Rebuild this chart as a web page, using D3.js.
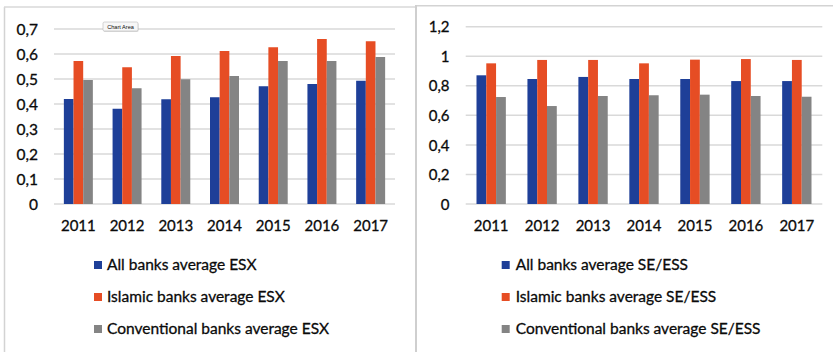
<!DOCTYPE html>
<html>
<head>
<meta charset="utf-8">
<script src="https://cdn.jsdelivr.net/npm/d3@7/dist/d3.min.js"></script>
<style>
  html, body { margin: 0; padding: 0; background: #ffffff; }
  svg { display: block; }
  text { font-family: Lato, "Open Sans", sans-serif; fill: #0a0a0a; }
  .lbl { stroke: #0a0a0a; stroke-width: 0.3px; }
</style>
</head>
<body>
<svg id="chart" width="833" height="352"></svg>
<script>
// ---- Data ----
const years = ["2011", "2012", "2013", "2014", "2015", "2016", "2017"];

const esxAll          = [0.420, 0.381, 0.419, 0.427, 0.471, 0.480, 0.493];
const esxIslamic      = [0.572, 0.547, 0.592, 0.612, 0.627, 0.660, 0.651];
const esxConventional = [0.496, 0.463, 0.499, 0.512, 0.572, 0.572, 0.588];

const seAll           = [0.871, 0.846, 0.860, 0.846, 0.846, 0.832, 0.832];
const seIslamic       = [0.952, 0.975, 0.975, 0.952, 0.977, 0.981, 0.975];
const seConventional  = [0.724, 0.663, 0.731, 0.736, 0.740, 0.731, 0.726];

const esxTicks = [0, 0.1, 0.2, 0.3, 0.4, 0.5, 0.6, 0.7];
const seTicks  = [0, 0.2, 0.4, 0.6, 0.8, 1.0, 1.2];

const esxLegend = ["All banks average ESX", "Islamic banks average ESX", "Conventional banks average ESX"];
const seLegend  = ["All banks average SE/ESS", "Islamic banks average SE/ESS", "Conventional banks average SE/ESS"];

const colors = ["#1e3f98", "#e64d24", "#848484"];

// ---- Drawing ----
const svg = d3.select("#chart");
const fmt = v => (v === 0 ? "0" : String(+v.toFixed(1))).replace(".", ",");

// panel frames
const frame = svg.append("g");
frame.append("line").attr("x1", 4.5).attr("x2", 4.5).attr("y1", 7).attr("y2", 352)
  .attr("stroke", "#d3d3d3").attr("stroke-width", 1.5);
frame.append("line").attr("x1", 4).attr("x2", 416).attr("y1", 7).attr("y2", 7)
  .attr("stroke", "#d8d8d8").attr("stroke-width", 1.5);
frame.append("line").attr("x1", 416).attr("x2", 833).attr("y1", 5.7).attr("y2", 5.7)
  .attr("stroke", "#d3d3d3").attr("stroke-width", 1.5);
frame.append("line").attr("x1", 416).attr("x2", 416).attr("y1", 5).attr("y2", 352)
  .attr("stroke", "#cfcfcf").attr("stroke-width", 2);

function panel(cfg) {
  const g = svg.append("g");
  const series = [cfg.a, cfg.b, cfg.c];
  const y = d3.scaleLinear().domain([0, cfg.ticks[cfg.ticks.length - 1]]).range([204, cfg.yTop]);
  const x = d3.scaleBand().domain(years).range([cfg.x0, cfg.x1]).padding(0);
  const bw = x.bandwidth();
  const xs = d3.scaleBand().domain([0, 1, 2])
    .range([bw * (1 - cfg.group) / 2, bw * (1 + cfg.group) / 2]).padding(0);

  // gridlines
  g.append("g").selectAll("line").data(cfg.ticks).join("line")
    .attr("x1", cfg.x0).attr("x2", cfg.x1)
    .attr("y1", d => y(d)).attr("y2", d => y(d))
    .attr("stroke", "#d9d9d9").attr("stroke-width", 1.5);

  // y axis labels
  const yAxis = d3.axisLeft(y).tickValues(cfg.ticks).tickFormat(fmt).tickSize(0).tickPadding(0);
  const ya = g.append("g").attr("transform", `translate(${cfg.labelRight},0)`).call(yAxis);
  ya.select(".domain").remove();
  ya.selectAll("text").attr("class", "lbl").attr("font-size", cfg.yFont).attr("dy", "0.34em")
    .style("font-family", "Lato, 'Open Sans', sans-serif").attr("fill", "#0a0a0a");

  // bars
  const groups = g.append("g").selectAll("g").data(years).join("g")
    .attr("transform", d => `translate(${x(d)},0)`);
  groups.selectAll("rect").data((d, i) => series.map((s, k) => ({ k, v: s[i] }))).join("rect")
    .attr("x", d => xs(d.k)).attr("width", xs.bandwidth())
    .attr("y", d => y(d.v)).attr("height", d => y(0) - y(d.v))
    .attr("fill", d => colors[d.k]);

  // x axis labels
  const xAxis = d3.axisBottom(x).tickSize(0).tickPadding(0);
  const xa = g.append("g").attr("transform", `translate(0,${cfg.xLabelY})`).call(xAxis);
  xa.select(".domain").remove();
  xa.selectAll("text").attr("class", "lbl").attr("font-size", 15).attr("dy", "0.35em")
    .style("font-family", "Lato, 'Open Sans', sans-serif").attr("fill", "#0a0a0a");

  // legend
  const lg = g.append("g").selectAll("g").data(cfg.legend).join("g")
    .attr("transform", (d, i) => `translate(${cfg.legX},${265 + i * 32})`);
  lg.append("rect").attr("x", 0).attr("y", -4).attr("width", 8).attr("height", 8)
    .attr("fill", (d, i) => colors[i]);
  lg.append("text").attr("class", "lbl").attr("x", cfg.legTextDx).attr("y", 0).attr("dy", "0.35em")
    .attr("font-size", 15.5).text(d => d);
}

panel({
  a: esxAll, b: esxIslamic, c: esxConventional, ticks: esxTicks,
  yTop: 29, x0: 54, x1: 395, group: 0.595, labelRight: 38, yFont: 15.5,
  xLabelY: 226, legend: esxLegend, legX: 94, legTextDx: 13
});
panel({
  a: seAll, b: seIslamic, c: seConventional, ticks: seTicks,
  yTop: 26.7, x0: 465.7, x1: 822.3, group: 0.576, labelRight: 449.5, yFont: 15,
  xLabelY: 226, legend: seLegend, legX: 501.7, legTextDx: 14
});

// "Chart Area" tooltip
const tip = svg.append("g").attr("transform", "translate(103,22)");
tip.append("rect").attr("x", 0.5).attr("y", 1).attr("width", 35).attr("height", 9)
  .attr("rx", 1.5).attr("fill", "#bbbbbb").attr("opacity", 0.5);
tip.append("rect").attr("x", 0).attr("y", 0).attr("width", 35).attr("height", 9)
  .attr("rx", 1.5).attr("fill", "#f7f7f7").attr("stroke", "#b9b9b9").attr("stroke-width", 0.6);
tip.append("text").attr("x", 17.5).attr("y", 4.7).attr("dy", "0.35em")
  .attr("text-anchor", "middle").attr("font-size", 5.6).attr("fill", "#333")
  .style("font-family", "'Liberation Sans', Arial, sans-serif").text("Chart Area");
</script>
</body>
</html>
